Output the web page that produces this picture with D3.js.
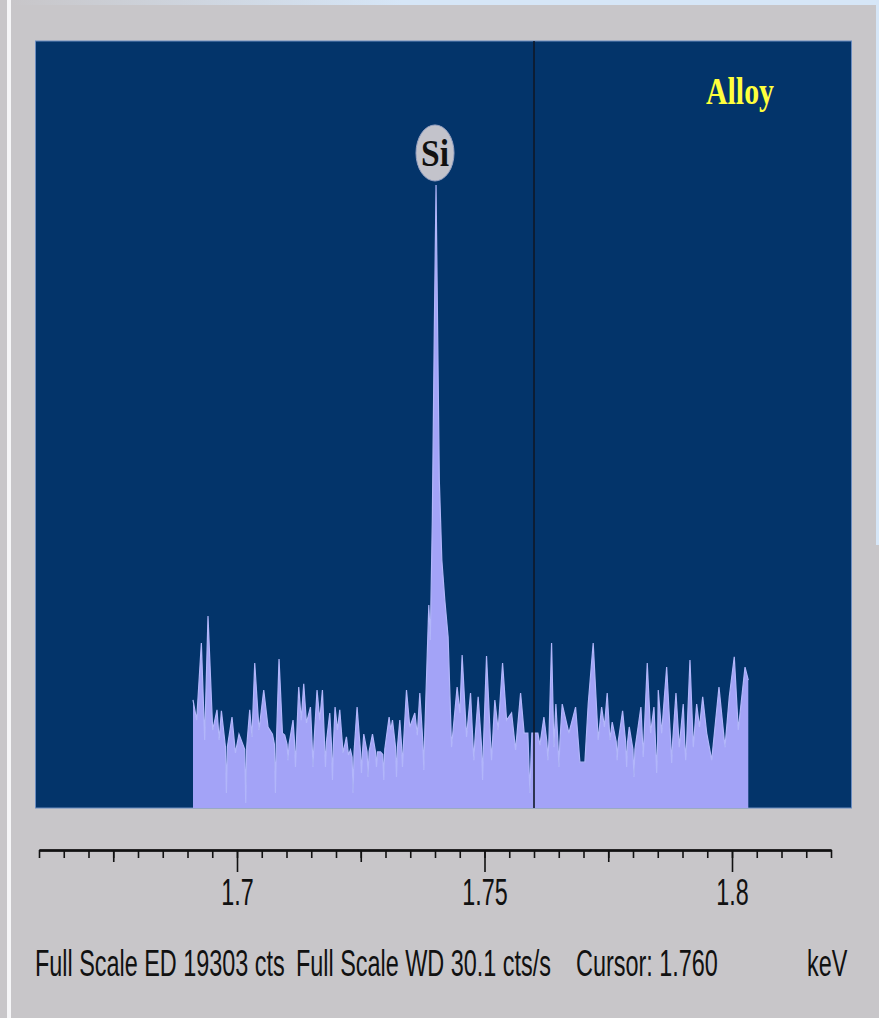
<!DOCTYPE html>
<html>
<head>
<meta charset="utf-8">
<script src="https://cdn.jsdelivr.net/npm/d3@7"></script>
<style>
  body { margin: 0; background: #c8c6c9; }
  svg { display: block; }
</style>
</head>
<body>
<div id="chart-area"></div>
<script>
// spectrum: energy (keV) and rate (cts/s)
const energy = [
  1.69111, 1.69185, 1.69280, 1.69347, 1.69414, 1.69509, 1.69596, 1.69640, 1.69685, 1.69786,
  1.69899, 1.69968, 1.70040, 1.70176, 1.70257, 1.70303, 1.70358, 1.70445, 1.70540, 1.70627,
  1.70716, 1.70776, 1.70849, 1.70918, 1.70964, 1.71031, 1.71132, 1.71181, 1.71247, 1.71298,
  1.71348, 1.71403, 1.71484, 1.71536, 1.71617, 1.71672, 1.71726, 1.71787, 1.71874, 1.71928,
  1.71981, 1.72030, 1.72076, 1.72143, 1.72211, 1.72252, 1.72292, 1.72345, 1.72426, 1.72515,
  1.72561, 1.72648, 1.72737, 1.72818, 1.72899, 1.72965, 1.73073, 1.73107, 1.73141, 1.73222,
  1.73289, 1.73343, 1.73424, 1.73491, 1.73592, 1.73643, 1.73693, 1.73774, 1.73875, 1.73905,
  1.73946, 1.73986, 1.74021, 1.74053, 1.74087, 1.74138, 1.74198, 1.74265, 1.74334, 1.74447,
  1.74502, 1.74548, 1.74637, 1.74718, 1.74785, 1.74872, 1.74961, 1.75041, 1.75142, 1.75209,
  1.75276, 1.75365, 1.75446, 1.75547, 1.75628, 1.75729, 1.75801, 1.75876, 1.75917, 1.75957,
  1.76078, 1.76119, 1.76200, 1.76280, 1.76355, 1.76402, 1.76442, 1.76503, 1.76570, 1.76705,
  1.76840, 1.76927, 1.77028, 1.77095, 1.77196, 1.77297, 1.77366, 1.77423, 1.77479, 1.77534,
  1.77580, 1.77681, 1.77790, 1.77871, 1.77924, 1.78019, 1.78160, 1.78207, 1.78288, 1.78356,
  1.78423, 1.78478, 1.78510, 1.78579, 1.78680, 1.78781, 1.78868, 1.78935, 1.79015, 1.79064,
  1.79151, 1.79218, 1.79286, 1.79343, 1.79408, 1.79489, 1.79590, 1.79737, 1.79858, 1.79945,
  1.80046, 1.80127, 1.80176, 1.80263, 1.80329
];
const rate = [
  4.24, 3.45, 6.47, 2.67, 7.53, 3.06, 3.85, 2.67, 3.81, 0.59,
  3.57, 2.16, 2.90, 0.20, 3.85, 2.79, 5.69, 3.06, 4.63, 3.18,
  2.90, 0.59, 5.85, 2.94, 2.86, 1.88, 3.45, 1.61, 4.75, 3.45,
  4.87, 3.34, 3.96, 1.61, 4.63, 3.45, 4.63, 1.61, 3.73, 1.10,
  3.96, 3.06, 3.85, 2.16, 2.79, 2.08, 2.28, 0.59, 3.96, 1.37,
  2.90, 1.22, 2.90, 1.61, 2.20, 1.10, 3.57, 3.06, 3.45, 1.22,
  3.45, 1.61, 4.63, 3.18, 3.73, 2.86, 4.51, 1.49, 7.97, 6.59,
  11.30, 18.76, 24.45, 18.76, 12.87, 9.73, 8.16, 6.71, 2.39, 4.75,
  3.73, 6.00, 2.79, 4.51, 1.88, 4.36, 1.10, 5.96, 1.88, 4.24,
  3.06, 5.69, 3.45, 3.73, 2.28, 4.51, 2.94, 2.94, 0.59, 2.94,
  2.94, 2.47, 3.57, 1.88, 6.47, 2.39, 4.08, 1.61, 4.08, 2.94,
  3.96, 1.80, 1.80, 4.08, 6.47, 2.67, 3.96, 3.18, 4.51, 2.67,
  3.37, 1.88, 3.81, 1.61, 3.18, 1.22, 3.96, 2.00, 5.69, 2.94,
  3.96, 1.37, 4.63, 2.94, 5.53, 1.77, 4.51, 2.39, 4.08, 1.88,
  5.81, 2.39, 4.08, 3.18, 4.36, 2.94, 1.88, 4.75, 2.39, 4.36,
  5.93, 3.06, 3.96, 5.53, 5.02
];

// edges of the narrow dark gaps, where the fill closes again (keV, cts/s)
const gapEdgeEnergy = [
  1.69766, 1.69806, 1.70156, 1.70196, 1.70756, 1.70796, 1.71011, 1.71051,
  1.71161, 1.71201, 1.71516, 1.71556, 1.71767, 1.71807, 1.71908, 1.71948,
  1.72325, 1.72365, 1.72495, 1.72535, 1.72628, 1.72668, 1.72798, 1.72838,
  1.72945, 1.72985, 1.73202, 1.73242, 1.73323, 1.73363, 1.73754, 1.73794,
  1.74765, 1.74805, 1.74941, 1.74981, 1.75122, 1.75162, 1.76260, 1.76300,
  1.76483, 1.76523, 1.77661, 1.77701, 1.77851, 1.77891, 1.77999, 1.78039,
  1.78458, 1.78498, 1.78761, 1.78801, 1.79044, 1.79084
];
const gapEdgeRate = [
  2.4, 2.4, 2.3, 2.4, 2.5, 2.6, 2.5, 2.5,
  2.6, 2.6, 2.6, 2.6, 2.6, 2.6, 2.5, 2.5,
  2.0, 2.2, 2.2, 2.2, 2.2, 2.2, 2.2, 2.2,
  2.1, 2.3, 2.4, 2.4, 2.5, 2.5, 2.6, 3.0,
  2.6, 2.6, 2.4, 2.6, 2.6, 2.6, 2.6, 2.6,
  2.6, 2.6, 2.6, 2.6, 2.6, 2.6, 2.3, 2.3,
  2.4, 2.6, 2.6, 2.6, 2.6, 2.6
];

const peakNames = ["Si"];
const peakEnergy = [1.740];
const peakRate = [24.45];

const tickLabels = ["1.7", "1.75", "1.8"];
const majorTicks = [1.70, 1.75, 1.80];
const mediumTicks = [1.675, 1.725, 1.775];
const axisDomain = [1.66, 1.82];

const sampleName = "Alloy";
const fullScaleED = 19303;   // cts
const fullScaleWD = 30.1;    // cts/s
const cursorAt = 1.760;      // keV

const W = 879, H = 1018;
const plot = {left: 35.5, top: 41, right: 851.5, bottom: 808};
const squeeze = 0.65;   // the status/axis font is a narrow one

const svg = d3.select("#chart-area")
  .append("svg")
  .attr("width", W)
  .attr("height", H);

// window frame
const defs = svg.append("defs");
const grad = defs.append("linearGradient").attr("id", "topband");
grad.append("stop").attr("offset", "0%").attr("stop-color", "#c8c6c9");
grad.append("stop").attr("offset", "45%").attr("stop-color", "#d6e6f7");
grad.append("stop").attr("offset", "100%").attr("stop-color", "#d6e6f7");

svg.append("rect").attr("width", W).attr("height", H).attr("fill", "#c8c6c9");
svg.append("rect").attr("x", 11).attr("y", 0).attr("width", W - 11).attr("height", 5)
  .attr("fill", "url(#topband)");
svg.append("rect").attr("x", 876).attr("y", 0).attr("width", 3).attr("height", 545)
  .attr("fill", "#d6e6f7");
svg.append("rect").attr("x", 7).attr("y", 0).attr("width", 4).attr("height", H)
  .attr("fill", "#f6f6f8");

defs.append("clipPath").attr("id", "plotclip")
  .append("rect")
  .attr("x", plot.left).attr("y", plot.top)
  .attr("width", plot.right - plot.left).attr("height", plot.bottom - plot.top);

// scales
const x = d3.scaleLinear().domain(axisDomain).range([39, 831]);
const y = d3.scaleLinear().domain([0, fullScaleWD]).range([plot.bottom, plot.top]);

// plot background
svg.append("rect")
  .attr("x", plot.left).attr("y", plot.top)
  .attr("width", plot.right - plot.left).attr("height", plot.bottom - plot.top)
  .attr("fill", "#03346a")
  .attr("stroke", "#6a8cc0")
  .attr("stroke-width", 1);

const data = energy.map((e, i) => ({e: e, c: rate[i]}))
  .concat(gapEdgeEnergy.map((e, i) => ({e: e, c: gapEdgeRate[i]})))
  .sort((a, b) => a.e - b.e);

const area = d3.area()
  .x(d => x(d.e))
  .y0(y(0))
  .y1(d => y(d.c));

const line = d3.line()
  .x(d => x(d.e))
  .y(d => y(d.c));

const spec = svg.append("g").attr("clip-path", "url(#plotclip)");
spec.append("path")
  .datum(data)
  .attr("fill", "#a3a3f7")
  .attr("d", area);
spec.append("path")
  .datum(data)
  .attr("fill", "none")
  .attr("stroke", "#b2b6fa")
  .attr("stroke-width", 1.2)
  .attr("d", line);

// cursor line
svg.append("line")
  .attr("x1", x(cursorAt)).attr("x2", x(cursorAt))
  .attr("y1", plot.top).attr("y2", plot.bottom)
  .attr("stroke", "#101828")
  .attr("stroke-width", 1.6);

// peak label
const labels = svg.append("g").selectAll("g")
  .data(peakNames.map((n, i) => ({n: n, e: peakEnergy[i], c: peakRate[i]})))
  .enter().append("g")
  .attr("transform", d => "translate(" + x(d.e) + "," + (y(d.c) - 32) + ")");

labels.append("ellipse")
  .attr("rx", 19).attr("ry", 28)
  .attr("fill", "#c3c3cb")
  .attr("stroke", "#9aa4c4")
  .attr("stroke-width", 1);

labels.append("text")
  .attr("y", 13)
  .attr("text-anchor", "middle")
  .attr("font-family", "Liberation Serif, Times New Roman, serif")
  .attr("font-weight", "bold")
  .attr("font-size", "38px")
  .attr("fill", "#111")
  .attr("textLength", 28)
  .attr("lengthAdjust", "spacingAndGlyphs")
  .text(d => d.n);

// sample name
svg.append("text")
  .attr("x", 706).attr("y", 104)
  .attr("font-family", "Liberation Serif, Times New Roman, serif")
  .attr("font-weight", "bold")
  .attr("font-size", "38px")
  .attr("fill", "#ffff3c")
  .attr("textLength", 68)
  .attr("lengthAdjust", "spacingAndGlyphs")
  .text(sampleName);

// energy axis
const axisY = 850;
const minorTicks = d3.range(0, 33).map(i => +(axisDomain[0] + i * 0.005).toFixed(3));

const minorAxis = d3.axisBottom(x)
  .tickValues(minorTicks)
  .tickSize(8)
  .tickSizeOuter(0)
  .tickFormat("");
const mediumAxis = d3.axisBottom(x)
  .tickValues(mediumTicks)
  .tickSize(12)
  .tickSizeOuter(0)
  .tickFormat("");
const majorAxis = d3.axisBottom(x)
  .tickValues(majorTicks)
  .tickSize(22)
  .tickSizeOuter(0)
  .tickPadding(7)
  .tickFormat((d, i) => tickLabels[i]);

[minorAxis, mediumAxis, majorAxis].forEach(a => {
  svg.append("g")
    .attr("class", "axis")
    .attr("transform", "translate(0," + axisY + ")")
    .call(a);
});

svg.selectAll(".axis path").attr("stroke", "#111").attr("stroke-width", 2);
svg.selectAll(".axis line").attr("stroke", "#111").attr("stroke-width", 1.6);
svg.selectAll(".axis text")
  .attr("font-family", "Liberation Sans, Arial, sans-serif")
  .attr("font-size", "37px")
  .attr("fill", "#111")
  .each(function() {
    const w = this.getComputedTextLength();
    d3.select(this).attr("textLength", w * 0.63).attr("lengthAdjust", "spacingAndGlyphs");
  });

// status line, one piece per field
const status = [
  {t: "Full Scale ED " + fullScaleED + " cts", x: 35},
  {t: "Full Scale WD " + fullScaleWD + " cts/s", x: 296},
  {t: "Cursor: " + cursorAt.toFixed(3), x: 576},
  {t: "keV", x: 807}
];

svg.append("g").selectAll("text")
  .data(status)
  .enter().append("text")
  .attr("x", d => d.x).attr("y", 976)
  .attr("font-family", "Liberation Sans, Arial, sans-serif")
  .attr("font-size", "36px")
  .attr("fill", "#111")
  .text(d => d.t)
  .each(function() {
    const w = this.getComputedTextLength();
    d3.select(this).attr("textLength", w * squeeze).attr("lengthAdjust", "spacingAndGlyphs");
  });
</script>
</body>
</html>
